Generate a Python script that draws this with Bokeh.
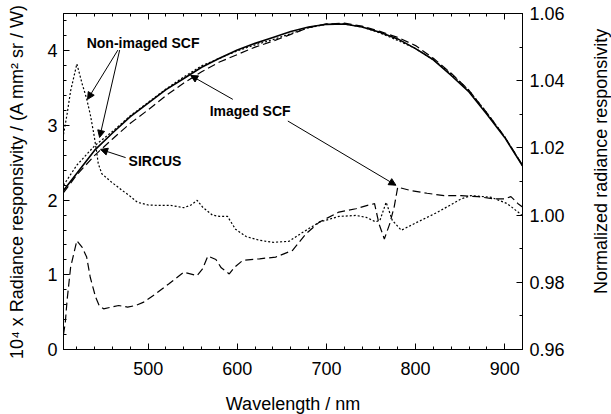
import math
from bokeh.plotting import figure
from bokeh.layouts import row
from bokeh.models import (Range1d, LinearAxis, FixedTicker, PrintfTickFormatter,
                          Label, Arrow, NormalHead)
from bokeh.embed import file_html
from bokeh.resources import INLINE

# ---------------- data ----------------
# Radiance responsivity (left axis, 10^4 x A mm^2 sr / W)
wl_resp = [405, 420, 440, 460, 480, 500, 520, 540, 560, 580, 600, 620, 640, 660,
           680, 700, 720, 740, 760, 780, 800, 820, 840, 860, 880, 900, 920]
sircus = [2.13, 2.36, 2.67, 2.90, 3.12, 3.30, 3.48, 3.63, 3.78, 3.90, 4.01, 4.10, 4.18,
          4.26, 4.32, 4.355, 4.36, 4.32, 4.25, 4.16, 4.03, 3.88, 3.67, 3.45, 3.15, 2.84, 2.46]
imaged_scf = [2.10, 2.34, 2.60, 2.82, 3.03, 3.21, 3.40, 3.57, 3.72, 3.85, 3.95, 4.05, 4.13,
              4.22, 4.31, 4.36, 4.37, 4.33, 4.26, 4.18, 4.07, 3.90, 3.70, 3.47, 3.17, 2.85, 2.47]
nonimaged_scf = [2.20, 2.47, 2.73, 2.92, 3.13, 3.31, 3.49, 3.65, 3.80, 3.90, 4.00, 4.08, 4.15,
                 4.23, 4.31, 4.355, 4.36, 4.32, 4.24, 4.14, 4.03, 3.88, 3.69, 3.47, 3.17, 2.85, 2.46]

# Normalized radiance responsivity (right axis)
wl_nonimg_ratio = [405, 409, 413, 420, 426, 431, 435, 439, 442, 444, 448, 459, 470, 478,
                   488, 500, 510, 525, 540, 548, 555, 561, 572, 580, 589, 598, 610, 625,
                   640, 658, 673, 692, 714, 733, 745, 755, 760, 767, 774, 784, 802, 825,
                   851, 862, 885, 903, 915, 920]
nonimg_ratio = [1.024, 1.030, 1.037, 1.045, 1.039, 1.0346, 1.030, 1.0242, 1.0192, 1.0153,
                1.0123, 1.0098, 1.0075, 1.0060, 1.0038, 1.0030, 1.0029, 1.0029, 1.0022,
                1.0030, 1.0044, 1.0024, 1.0000, 0.9996, 0.9996, 0.9958, 0.9936, 0.9925,
                0.9919, 0.9922, 0.9948, 0.9979, 0.9996, 0.9999, 0.9993, 0.9980, 0.9984,
                1.0038, 0.9984, 0.9955, 0.9979, 1.0009, 1.0048, 1.0058, 1.0053, 1.0034,
                1.0009, 0.9998]

wl_img_ratio = [405, 407, 409, 413, 420, 426, 431, 435, 441, 445, 450, 467, 477, 486, 495,
                508, 523, 540, 555, 561, 567, 576, 582, 591, 597, 606, 625, 643, 662, 677,
                692, 714, 733, 746, 754, 759, 765, 771, 776, 780, 795, 813, 832, 851, 870,
                889, 900, 907, 915, 920]
img_ratio = [0.9645, 0.9680, 0.9746, 0.9845, 0.9924, 0.9904, 0.9875, 0.9815, 0.9756,
             0.9731, 0.9721, 0.9731, 0.9726, 0.9731, 0.9741, 0.9765, 0.9795, 0.9830,
             0.9820, 0.9840, 0.9878, 0.9868, 0.9843, 0.9825, 0.9845, 0.9865, 0.9870,
             0.9875, 0.9895, 0.9944, 0.9979, 1.0009, 1.0019, 1.0029, 1.0034, 0.9974,
             0.9929, 0.9974, 1.0024, 1.0083, 1.0073, 1.0065, 1.0058, 1.0058, 1.0055,
             1.0048, 1.0048, 1.0055, 1.0034, 1.0024]

x_major = [500, 600, 700, 800, 900]
x_minor = list(range(420, 921, 20))
yl_major = [0, 1, 2, 3, 4]
yl_minor = [i * 0.2 for i in range(0, 23)]
yr_major = [0.96, 0.98, 1.00, 1.02, 1.04, 1.06]
yr_minor = [0.96 + 0.01 * i for i in range(0, 11)]

FONT = "Liberation Sans"

# ---------------- figure ----------------
p = figure(frame_width=459, frame_height=336, x_range=Range1d(405, 920), y_range=Range1d(0, 4.5),
           output_backend="svg", toolbar_location=None,
           min_border_left=63, min_border_right=67, min_border_top=13, min_border_bottom=65)
p.extra_y_ranges = {"norm": Range1d(0.96, 1.06)}
p.xgrid.visible = False
p.ygrid.visible = False
p.outline_line_color = "black"
p.outline_line_width = 1
p.background_fill_color = "white"
p.border_fill_color = "white"


def style_axis(ax, show_labels=True):
    ax.axis_line_color = "black"
    ax.major_tick_line_color = "black"
    ax.minor_tick_line_color = "black"
    ax.major_tick_in = 6
    ax.major_tick_out = 0
    ax.minor_tick_in = 3
    ax.minor_tick_out = 0
    ax.major_label_text_font = FONT
    ax.major_label_text_font_size = "18px"
    ax.major_label_text_color = "black"
    if not show_labels:
        ax.major_label_text_alpha = 0
    ax.axis_label_text_font = FONT
    ax.axis_label_text_font_size = "18px"
    ax.axis_label_text_font_style = "normal"
    ax.axis_label_text_color = "black"


xax = p.xaxis[0]
xax.ticker = FixedTicker(ticks=x_major, minor_ticks=x_minor)
style_axis(xax)
xax.axis_label = "Wavelength / nm"
xax.major_label_standoff = 12
xax.axis_label_standoff = 16

yax = p.yaxis[0]
yax.ticker = FixedTicker(ticks=yl_major, minor_ticks=yl_minor)
style_axis(yax)
yax.axis_label = "10\u2074 x Radiance responsivity / (A mm\u00b2 sr / W)"
yax.major_label_standoff = 6
yax.axis_label_standoff = 17

rax = LinearAxis(y_range_name="norm", ticker=FixedTicker(ticks=yr_major, minor_ticks=yr_minor),
                 formatter=PrintfTickFormatter(format="%.2f"))
style_axis(rax)
rax.major_label_standoff = 7
p.add_layout(rax, "right")

tax = LinearAxis(ticker=FixedTicker(ticks=x_major, minor_ticks=x_minor))
style_axis(tax, show_labels=False)
tax.major_label_text_font_size = "1px"
tax.major_label_standoff = 0
p.add_layout(tax, "above")

# ---------------- curves ----------------
p.line(wl_resp, sircus, line_color="black", line_width=1.6)
p.line(wl_resp, imaged_scf, line_color="black", line_width=1.2, line_dash="8 4")
p.line(wl_resp, nonimaged_scf, line_color="black", line_width=1.2, line_dash="2 2")

p.line(wl_nonimg_ratio, nonimg_ratio, line_color="black", line_width=1.2, line_dash="2 2",
       y_range_name="norm")
p.line(wl_img_ratio, img_ratio, line_color="black", line_width=1.2, line_dash="8 4",
       y_range_name="norm")

# ---------------- annotations ----------------
def lab(x, y, t):
    p.add_layout(Label(x=x, y=y, text=t, text_font=FONT, text_font_style="bold",
                       text_font_size="14px", text_align="left", text_baseline="middle",
                       text_color="black"))


def arrow(x0, y0, x1, y1):
    p.add_layout(Arrow(end=NormalHead(size=7, fill_color="black", line_color="black"),
                       x_start=x0, y_start=y0, x_end=x1, y_end=y1,
                       line_color="black", line_width=1))


lab(431, 4.10, "Non-imaged SCF")
arrow(466, 4.01, 432, 3.35)
arrow(468, 4.01, 445.5, 2.84)

lab(478, 2.53, "SIRCUS")
arrow(474.7, 2.57, 446.6, 2.68)

lab(569, 3.19, "Imaged SCF")
arrow(595, 3.35, 547.7, 3.67)
arrow(656.7, 3.06, 778, 2.20)

# ---------------- right-hand axis title (reads bottom-to-top) ----------------
t = figure(frame_width=22, frame_height=336, x_range=Range1d(0, 1), y_range=Range1d(0, 1),
           output_backend="svg", toolbar_location=None, x_axis_type=None, y_axis_type=None,
           min_border_left=0, min_border_right=0, min_border_top=13, min_border_bottom=65)
t.outline_line_color = None
t.xgrid.visible = False
t.ygrid.visible = False
t.add_layout(Label(x=0.5, y=0.56, text="Normalized radiance responsivity", angle=math.pi / 2,
                   text_align="center", text_baseline="middle",
                   text_font=FONT, text_font_size="18px", text_color="black"))

layout = row(p, t)
open("out.html", "w").write(file_html(layout, INLINE))
